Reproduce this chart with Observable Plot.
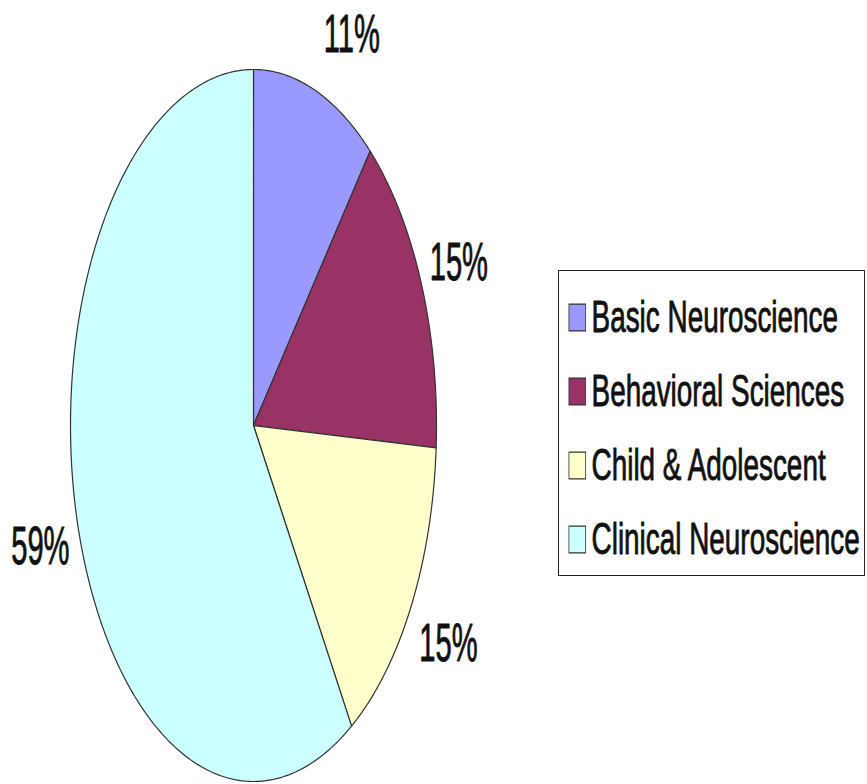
<!DOCTYPE html>
<html><head><meta charset="utf-8">
<script src="https://cdn.jsdelivr.net/npm/d3@7"></script>
<script src="https://cdn.jsdelivr.net/npm/@observablehq/plot@0.6"></script>
<style>
html,body{margin:0;padding:0;background:#fff;overflow:hidden;}
#wrap{position:relative;width:867px;height:784px;font-family:"Liberation Sans",Arial,sans-serif;}
#wrap > svg{position:absolute;left:0;top:0;}
#legend{position:absolute;left:558px;top:270px;width:307px;height:306px;border:1.5px solid #222;box-sizing:border-box;overflow:hidden;background:#fff;}
#legend svg{transform:scaleX(0.62);transform-origin:0 0;max-width:none;}
</style></head><body><div id="wrap"><div id="legend"></div></div>
<script>
const categories = ["Basic Neuroscience","Behavioral Sciences","Child & Adolescent","Clinical Neuroscience"];
const values = [11,15,15,59];
const labels = ["11%","15%","15%","59%"];
const colors = ["#9999FF","#993366","#FFFFCC","#CCFFFF"];

const data = categories.map((name,i)=>({name, value: values[i], label: labels[i]}));
const arcs = d3.pie().sort(null).value(d=>d.value)(data);

// slice outlines in unit-circle space (center 0,0; radius 1)
const pts = [];
arcs.forEach(a => {
  const n = Math.max(2, Math.ceil((a.endAngle - a.startAngle) / (Math.PI/360)));
  pts.push({name: a.data.name, x: 0, y: 0});
  for (let k = 0; k <= n; k++) {
    const t = a.startAngle + (a.endAngle - a.startAngle) * k / n;
    pts.push({name: a.data.name, x: Math.sin(t), y: Math.cos(t)});
  }
  pts.push({name: a.data.name, x: 0, y: 0});
});
// labels sit just outside the rim at the slice's mid angle
const labelGap = 0.045, labelRy = 1.18;
const labelPts = arcs.map(a => {
  const m = (a.startAngle + a.endAngle) / 2;
  const s = Math.sin(m);
  return {label: a.data.label, right: s >= 0, x: s + Math.sign(s) * labelGap, y: labelRy * Math.cos(m)};
});

const font = "Liberation Sans, Arial, sans-serif";
const labelStyle = {x: "x", y: "y", text: "label", fontSize: 54, dy: 4, fill: "#111", stroke: "#111", strokeWidth: 0.9};

const chart = Plot.plot({
  width: 867, height: 784, margin: 0,
  x: {domain: [-1, 1], range: [70, 436], axis: null},
  y: {domain: [-1, 1], range: [781, 69], axis: null},
  color: {domain: categories, range: colors},
  style: {fontFamily: font, background: "#fff"},
  marks: [
    Plot.line(pts, {x: "x", y: "y", z: "name", fill: "name", stroke: "#333", strokeWidth: 1.2, curve: "linear"}),
    Plot.text(labelPts.filter(d => d.right), {...labelStyle, textAnchor: "start"}),
    Plot.text(labelPts.filter(d => !d.right), {...labelStyle, textAnchor: "end"})
  ]
});

function squeeze(svg, sel, s) {
  svg.querySelectorAll(sel).forEach(t => {
    const tr = t.getAttribute("transform");
    if (tr) {
      t.setAttribute("transform", tr + ` scale(${s},1)`);
    } else {
      const x = +(t.getAttribute("x") || 0);
      t.removeAttribute("x");
      t.setAttribute("transform", `translate(${x},0) scale(${s},1)`);
    }
  });
}
squeeze(chart, 'g[aria-label="text"] text', 0.54);

const legendScale = 0.62;
const legend = Plot.plot({
  width: Math.round(307 / legendScale), height: 306, margin: 0,
  y: {type: "point", domain: categories, range: [45, 268], padding: 0, axis: null},
  color: {domain: categories, range: colors},
  style: {fontFamily: font, background: "transparent"},
  marks: [
    Plot.dot(categories, {y: d => d, frameAnchor: "left", dx: 29, symbol: "square", r: 15.2, fill: d => d, stroke: "#333", strokeWidth: 1.3}),
    Plot.text(categories, {y: d => d, frameAnchor: "left", dx: 52, text: d => d, textAnchor: "start", fontSize: 45, fill: "#111", stroke: "#111", strokeWidth: 0.9})
  ]
});

const wrap = document.getElementById("wrap");
wrap.insertBefore(chart, wrap.firstChild);
document.getElementById("legend").appendChild(legend);
</script>
</body></html>
